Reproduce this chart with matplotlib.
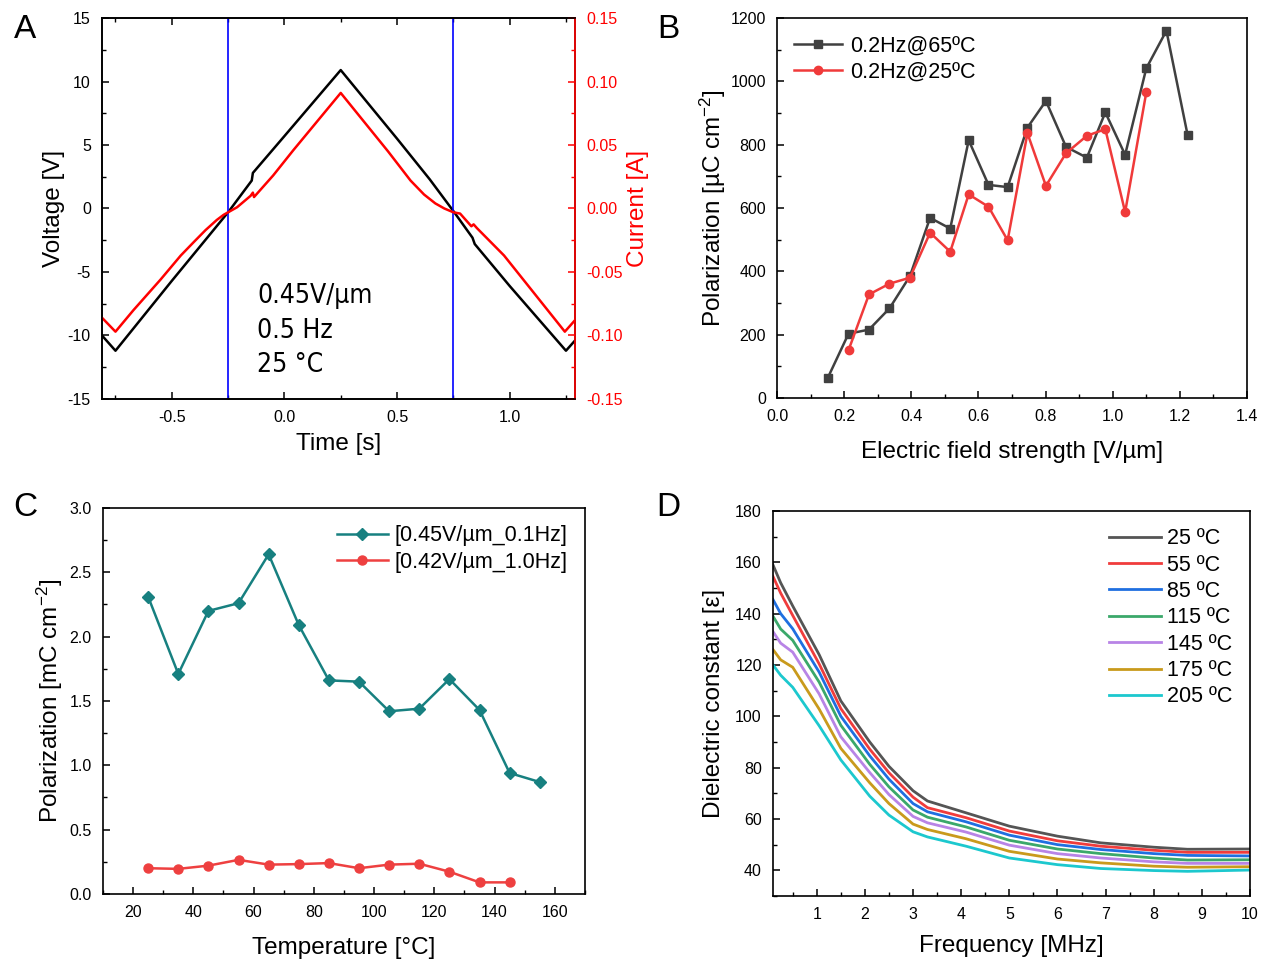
import numpy as np
import matplotlib
matplotlib.use("Agg")
import matplotlib.pyplot as plt
from matplotlib import font_manager as fm
from matplotlib.ticker import MultipleLocator, FormatStrFormatter

# ---- panel A: voltage / current vs time ----
time_v = [-0.81, -0.75, -0.5, -0.25, -0.145, -0.14, 0.0, 0.25, 0.5, 0.645,
          0.75, 0.835, 0.845, 1.0, 1.25, 1.30]
voltage = [-10.0, -11.2, -5.7, -0.3, 2.2, 2.8, 5.7, 10.9, 5.5, 2.3,
           -0.2, -2.3, -2.8, -6.1, -11.2, -10.2]
time_i = [-0.81, -0.75, -0.67, -0.55, -0.46, -0.40, -0.35, -0.30, -0.27, -0.25,
          -0.21, -0.15, -0.14, -0.135, -0.05, 0.04, 0.25, 0.46, 0.56, 0.62,
          0.67, 0.71, 0.75, 0.78, 0.83, 0.84, 0.855, 0.975, 1.245, 1.30]
current = [-0.086, -0.097, -0.080, -0.056, -0.037, -0.026, -0.017, -0.009, -0.005, -0.003,
           0.001, 0.010, 0.0125, 0.009, 0.026, 0.046, 0.091, 0.045, 0.022, 0.011,
           0.004, 0.000, -0.003, -0.004, -0.014, -0.0125, -0.0155, -0.037, -0.097, -0.086]
switch_times = [-0.25, 0.75]

# ---- panel B: polarization vs field ----
field_65 = [0.151, 0.213, 0.274, 0.335, 0.396, 0.456, 0.516, 0.571, 0.630, 0.687,
            0.746, 0.801, 0.861, 0.923, 0.978, 1.037, 1.100, 1.160, 1.223]
pol_65 = [63, 203, 216, 283, 385, 569, 535, 814, 673, 666,
          854, 938, 793, 759, 902, 768, 1041, 1160, 831]
field_25 = [0.213, 0.274, 0.335, 0.396, 0.456, 0.516, 0.571, 0.630, 0.687,
            0.746, 0.801, 0.861, 0.923, 0.978, 1.037, 1.100]
pol_25 = [151, 327, 361, 380, 522, 462, 643, 604, 498,
          836, 670, 773, 828, 849, 587, 965]

# ---- panel C: polarization vs temperature ----
temp_c1 = [25, 35, 45, 55, 65, 75, 85, 95, 105, 115, 125, 135, 145, 155]
pol_c1 = [2.31, 1.71, 2.20, 2.26, 2.64, 2.09, 1.66, 1.65, 1.42, 1.44, 1.67, 1.43, 0.94, 0.87]
temp_c2 = [25, 35, 45, 55, 65, 75, 85, 95, 105, 115, 125, 135, 145]
pol_c2 = [0.20, 0.195, 0.22, 0.265, 0.228, 0.232, 0.24, 0.20, 0.228, 0.235, 0.173, 0.09, 0.09]

# ---- panel D: dielectric constant vs frequency ----
freq = [0.09, 0.25, 0.5, 1.05, 1.5, 2.1, 2.5, 3.0, 3.3, 4.1, 5.0, 6.0, 6.9, 8.0, 8.7, 10.0]
eps_25 = [159, 152, 143, 124, 106, 90, 80.5, 71, 67, 62.4, 57.2, 53.3, 50.7, 49.0, 48.2, 48.3]
eps_55 = [154.5, 148, 139.3, 120.4, 103, 87.2, 78, 68.5, 64.4, 60.5, 55.3, 51.5, 49.4, 47.8, 47.0, 47.0]
eps_85 = [145.5, 140, 134.1, 117.2, 100, 84.6, 75.5, 66, 62.8, 58.9, 53.7, 50.0, 48.1, 46.5, 45.8, 45.6]
eps_115 = [139, 134, 129.6, 113.3, 96.5, 81.3, 72.5, 63.5, 60.7, 56.9, 51.7, 48.3, 46.5, 44.8, 44.0, 44.1]
eps_145 = [133, 128.5, 125, 108.7, 92, 78.1, 69.5, 61, 58.5, 54.9, 49.8, 46.5, 44.8, 43.3, 42.7, 42.7]
eps_175 = [126, 122, 119.1, 102.8, 87.5, 74.1, 66, 58, 55.9, 52.3, 47.4, 44.4, 42.9, 41.6, 41.2, 41.4]
eps_205 = [120, 116, 111.3, 96.3, 83, 68.9, 61.5, 55, 53.0, 49.4, 44.8, 42.2, 40.7, 39.9, 39.6, 40.1]
d_labels = ["25 ºC", "55 ºC", "85 ºC", "115 ºC", "145 ºC", "175 ºC", "205 ºC"]
d_series = [eps_25, eps_55, eps_85, eps_115, eps_145, eps_175, eps_205]
d_colors = ["#555555", "#F03C3C", "#1F6FE0", "#3BA86A", "#B884E6", "#C99A1C", "#1CC8CE"]

plt.rcParams["font.family"] = ["Liberation Sans", "DejaVu Sans"]
plt.rcParams["axes.unicode_minus"] = False
plt.rcParams["mathtext.fontset"] = "custom"
plt.rcParams["mathtext.rm"] = "Liberation Sans"
plt.rcParams["mathtext.default"] = "regular"
plt.rcParams["axes.linewidth"] = 1.2

names = {f.name for f in fm.fontManager.ttflist}
narrow = "Liberation Sans Narrow" if "Liberation Sans Narrow" in names else "DejaVu Sans"

TICK = 11.5
LAB = 17.5
LEG = 15.5


def style(ax, color="black"):
    ax.tick_params(which="both", direction="in", labelsize=TICK, colors=color, pad=8)
    ax.tick_params(which="major", length=5, width=1.1)
    ax.tick_params(which="minor", length=3, width=1.0)


fig = plt.figure(figsize=(12.62, 9.63), dpi=100)

# Panel A
axA = fig.add_axes([0.0808, 0.5857, 0.3748, 0.3956])
axA.plot(time_v, voltage, color="black", lw=1.8)
for t in switch_times:
    axA.axvline(t, color="#0000FF", lw=1.2)
axA.set_xlim(-0.81, 1.29)
axA.set_ylim(-15, 15)
axA.xaxis.set_major_locator(MultipleLocator(0.5))
axA.xaxis.set_minor_locator(MultipleLocator(0.25))
axA.yaxis.set_major_locator(MultipleLocator(5))
axA.yaxis.set_minor_locator(MultipleLocator(2.5))
axA.xaxis.set_major_formatter(FormatStrFormatter("%.1f"))
style(axA)
axA.tick_params(which="both", top=True)
axA.set_xlabel("Time [s]", fontsize=LAB)
axA.set_ylabel("Voltage [V]", fontsize=LAB)
axA.xaxis.set_label_coords(0.5, -0.089)
axA.yaxis.set_label_coords(-0.078, 0.5)
axA.text(-0.12, -5.9, "0.45V/µm\n0.5 Hz\n25 °C", fontsize=19, family=narrow,
         stretch="condensed", va="top", ha="left", linespacing=1.42)

axA2 = axA.twinx()
axA2.plot(time_i, current, color="#FF0000", lw=1.8)
axA2.set_ylim(-0.15, 0.15)
axA2.yaxis.set_major_locator(MultipleLocator(0.05))
axA2.yaxis.set_minor_locator(MultipleLocator(0.025))
axA2.yaxis.set_major_formatter(FormatStrFormatter("%.2f"))
style(axA2, "#FF0000")
axA2.spines["right"].set_color("#FF0000")
axA2.set_ylabel("Current [A]", fontsize=LAB, color="#FF0000")
axA2.yaxis.set_label_coords(1.11, 0.5)

# Panel B
axB = fig.add_axes([0.6157, 0.5867, 0.3724, 0.3946])
axB.plot(field_65, pol_65, color="#404040", lw=1.8, marker="s", ms=5.5, label="0.2Hz@65ºC")
axB.plot(field_25, pol_25, color="#F03A3A", lw=1.8, marker="o", ms=6, label="0.2Hz@25ºC")
axB.set_xlim(0, 1.4)
axB.set_ylim(0, 1200)
axB.xaxis.set_major_locator(MultipleLocator(0.2))
axB.xaxis.set_minor_locator(MultipleLocator(0.1))
axB.yaxis.set_major_locator(MultipleLocator(200))
axB.yaxis.set_minor_locator(MultipleLocator(100))
axB.xaxis.set_major_formatter(FormatStrFormatter("%.1f"))
style(axB)
axB.set_xlabel("Electric field strength [V/µm]", fontsize=LAB)
axB.set_ylabel("Polarization [µC cm$^{-2}$]", fontsize=LAB)
axB.xaxis.set_label_coords(0.5, -0.113)
axB.yaxis.set_label_coords(-0.104, 0.5)
axB.legend(loc="upper left", frameon=False, fontsize=LEG, handlelength=2.2,
           handletextpad=0.4, labelspacing=0.25, borderaxespad=0.4)

# Panel C
axC = fig.add_axes([0.0816, 0.0717, 0.3819, 0.4008])
axC.plot(temp_c1, pol_c1, color="#178080", lw=1.8, marker="D", ms=6, label="[0.45V/µm_0.1Hz]")
axC.plot(temp_c2, pol_c2, color="#EE4040", lw=1.8, marker="o", ms=6.5, label="[0.42V/µm_1.0Hz]")
axC.set_xlim(10, 170)
axC.set_ylim(0, 3.0)
axC.xaxis.set_major_locator(MultipleLocator(20))
axC.xaxis.set_minor_locator(MultipleLocator(10))
axC.yaxis.set_major_locator(MultipleLocator(0.5))
axC.yaxis.set_minor_locator(MultipleLocator(0.25))
axC.yaxis.set_major_formatter(FormatStrFormatter("%.1f"))
style(axC)
axC.set_xlabel("Temperature [°C]", fontsize=LAB)
axC.set_ylabel("Polarization [mC cm$^{-2}$]", fontsize=LAB)
axC.xaxis.set_label_coords(0.5, -0.111)
axC.yaxis.set_label_coords(-0.078, 0.5)
axC.legend(loc="upper right", frameon=False, fontsize=LEG, handlelength=2.4,
           handletextpad=0.3, labelspacing=0.25, borderaxespad=0.4)

# Panel D
axD = fig.add_axes([0.6125, 0.0696, 0.378, 0.3998])
for vals, lab, col in zip(d_series, d_labels, d_colors):
    axD.plot(freq, vals, color=col, lw=2.0, label=lab)
axD.set_xlim(0.09, 10)
axD.set_ylim(30, 180)
axD.xaxis.set_major_locator(MultipleLocator(1))
axD.xaxis.set_minor_locator(MultipleLocator(0.5))
axD.yaxis.set_major_locator(MultipleLocator(20))
axD.yaxis.set_minor_locator(MultipleLocator(10))
style(axD)
axD.set_xlabel("Frequency [MHz]", fontsize=LAB)
axD.set_ylabel("Dielectric constant [ε]", fontsize=LAB)
axD.xaxis.set_label_coords(0.5, -0.101)
axD.yaxis.set_label_coords(-0.101, 0.5)
axD.legend(loc="upper right", frameon=False, fontsize=LEG, handlelength=2.4,
           handletextpad=0.3, labelspacing=0.25, borderaxespad=0.4)

# panel letters
for lbl, x, y in [("A", 25, 30), ("B", 668, 30), ("C", 25, 508), ("D", 668, 508)]:
    fig.text(x / 1262, 1 - y / 963, lbl, fontsize=24, ha="center", va="center")

fig.savefig("out.png", dpi=100)
